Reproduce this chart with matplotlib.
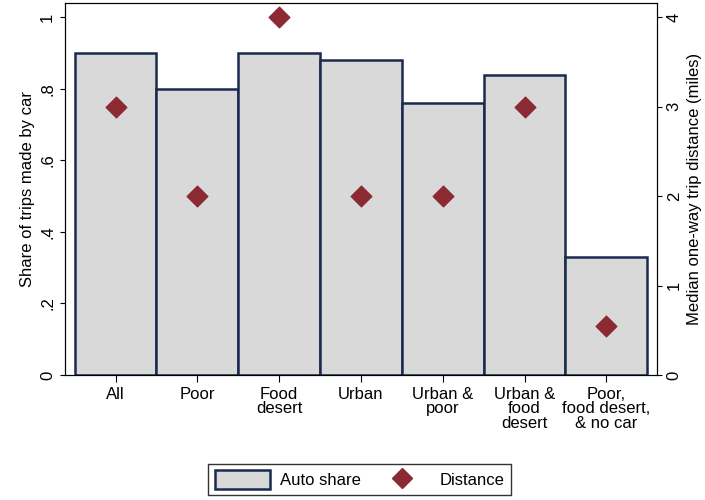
import matplotlib
matplotlib.use("Agg")
import matplotlib.pyplot as plt
from matplotlib.lines import Line2D
from matplotlib.patches import Patch

plt.rcParams['font.family'] = ['Liberation Sans', 'DejaVu Sans']

cats = ["All", "Poor", "Food\ndesert", "Urban", "Urban &\npoor", "Urban &\nfood\ndesert", "Poor,\nfood desert,\n& no car"]
auto_share = [0.90, 0.80, 0.90, 0.88, 0.76, 0.84, 0.33]
distance = [3, 2, 4, 2, 2, 3, 0.55]

fig = plt.figure(figsize=(7.05, 5), dpi=100)
ax = fig.add_axes([0.092, 0.25, 0.84, 0.744])
x = list(range(len(cats)))
ax.bar(x, auto_share, width=1.0, color="#d9d9d9", edgecolor="#1a2a4f", linewidth=1.8)
ax.set_xlim(-0.62, 6.62)
ax.set_ylim(0, 1.04)
ax.set_yticks([0, 0.2, 0.4, 0.6, 0.8, 1])
ax.set_yticklabels(["0", ".2", ".4", ".6", ".8", "1"], rotation=90, va="center", fontsize=12)
ax.set_ylabel("Share of trips made by car", fontsize=12)
ax.set_xticks(x)
ax.set_xticklabels(cats, fontsize=12, linespacing=0.95)
ax.tick_params(axis="x", length=5)

ax2 = ax.twinx()
ax2.scatter(x, distance, marker="D", s=110, color="#8b2a33", zorder=3)
ax2.set_ylim(0, 4.16)
ax2.set_yticks([0, 1, 2, 3, 4])
ax2.set_yticklabels(["0", "1", "2", "3", "4"], rotation=90, va="center", fontsize=12)
ax2.set_ylabel("Median one-way trip distance (miles)", fontsize=12)

handles = [Patch(facecolor="#d9d9d9", edgecolor="#1a2a4f", linewidth=1.8),
           Line2D([], [], marker="D", color="#8b2a33", linestyle="none", markersize=10)]
fig.legend(handles, ["Auto share", "Distance"], loc="center", bbox_to_anchor=(0.51, 0.041),
           ncol=2, fontsize=12, frameon=True, fancybox=False, edgecolor="black",
           handlelength=3.3, handleheight=1.3, columnspacing=0.8, handletextpad=0.6)
fig.savefig("out.png", dpi=100)
